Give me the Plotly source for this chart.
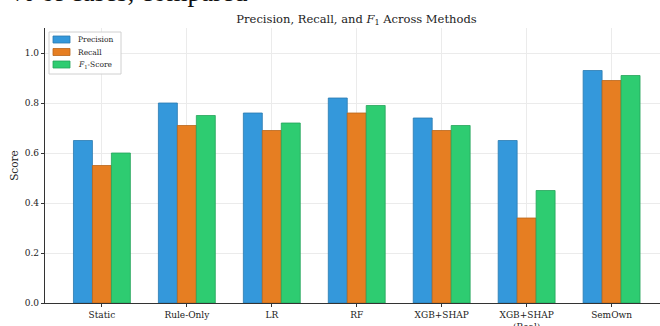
import plotly.graph_objects as go

categories = ["Static", "Rule-Only", "LR", "RF", "XGB+SHAP", "XGB+SHAP<br>(Real)", "SemOwn"]
precision = [0.65, 0.80, 0.76, 0.82, 0.74, 0.65, 0.93]
recall = [0.55, 0.71, 0.69, 0.76, 0.69, 0.34, 0.89]
f1 = [0.60, 0.75, 0.72, 0.79, 0.71, 0.45, 0.91]
series_names = ["Precision", "Recall", "<i>F</i><sub>1</sub>-Score"]
colors = ["#3498db", "#e67e22", "#2ecc71"]
edges = ["#2a7ab0", "#b8651b", "#25a35a"]

SERIF = "DejaVu Serif"
L, R, T, B, W, H = 45, 0, 28, 23, 660, 326
PW, PH = W - L - R, H - T - B

def px(x):
    return (x - L) / PW

def py(y):
    return (H - B - y) / PH

fig = go.Figure()
for name, vals, c, e in zip(series_names, [precision, recall, f1], colors, edges):
    fig.add_trace(go.Bar(x=list(range(len(categories))), y=vals, name=name,
                         marker=dict(color=c, line=dict(color=e, width=0.8)),
                         showlegend=False))

fig.update_layout(
    width=W, height=H,
    margin=dict(l=L, r=R, t=T, b=B, autoexpand=False),
    paper_bgcolor="white", plot_bgcolor="white",
    barmode="group", bargap=0.33, bargroupgap=0,
    font=dict(family=SERIF, size=9, color="#222"),
    title=dict(text="Precision, Recall, and <i>F</i><sub>1</sub> Across Methods",
               x=(45 + 668) / 2 / W, xanchor="center", y=1 - 19 / H, yanchor="middle",
               font=dict(family=SERIF, size=11.5, color="#222")),
)
fig.update_xaxes(range=[-0.67, 6.57], tickmode="array", tickvals=list(range(len(categories))),
                 ticktext=categories, showgrid=True, gridcolor="#ebebeb", gridwidth=1,
                 showline=True, linecolor="#333", linewidth=1.2, ticks="outside",
                 ticklen=3, tickcolor="#333", zeroline=False, automargin=False,
                 tickfont=dict(family=SERIF, size=9))
fig.update_yaxes(range=[0, 1.1], tickvals=[0, 0.2, 0.4, 0.6, 0.8, 1.0],
                 tickformat=".1f", showgrid=True, gridcolor="#ebebeb", gridwidth=1,
                 showline=True, linecolor="#333", linewidth=1.2, ticks="outside",
                 ticklen=3, tickcolor="#333", zeroline=False, automargin=False,
                 title=dict(text="Score", font=dict(family=SERIF, size=10.5), standoff=4),
                 tickfont=dict(family=SERIF, size=9))

# compact legend (matplotlib-style) built from the series lists
fig.add_shape(type="rect", xref="paper", yref="paper",
              x0=px(49), x1=px(121), y0=py(74), y1=py(32),
              line=dict(color="#d0d0d0", width=1), fillcolor="rgba(255,255,255,0.9)")
for i, (name, c, e) in enumerate(zip(series_names, colors, edges)):
    cy = 39.5 + 12.5 * i
    fig.add_shape(type="rect", xref="paper", yref="paper",
                  x0=px(53), x1=px(70), y0=py(cy + 3.5), y1=py(cy - 3.5),
                  line=dict(color=e, width=0.8), fillcolor=c)
    fig.add_annotation(text=name, xref="paper", yref="paper", x=px(76), y=py(cy),
                       xanchor="left", yanchor="middle", showarrow=False,
                       font=dict(family=SERIF, size=7.5, color="#222"))

fig.add_annotation(text="% of cases, compared", xref="paper", yref="paper",
                   x=px(10), xanchor="left", y=1 + (28 - 9) / PH, yanchor="bottom",
                   showarrow=False, font=dict(family="Liberation Serif", size=27, color="#111"))

fig.write_html("out.html", config={"displayModeBar": False},
               post_script="document.body.style.margin='0';document.body.style.padding='0';")
